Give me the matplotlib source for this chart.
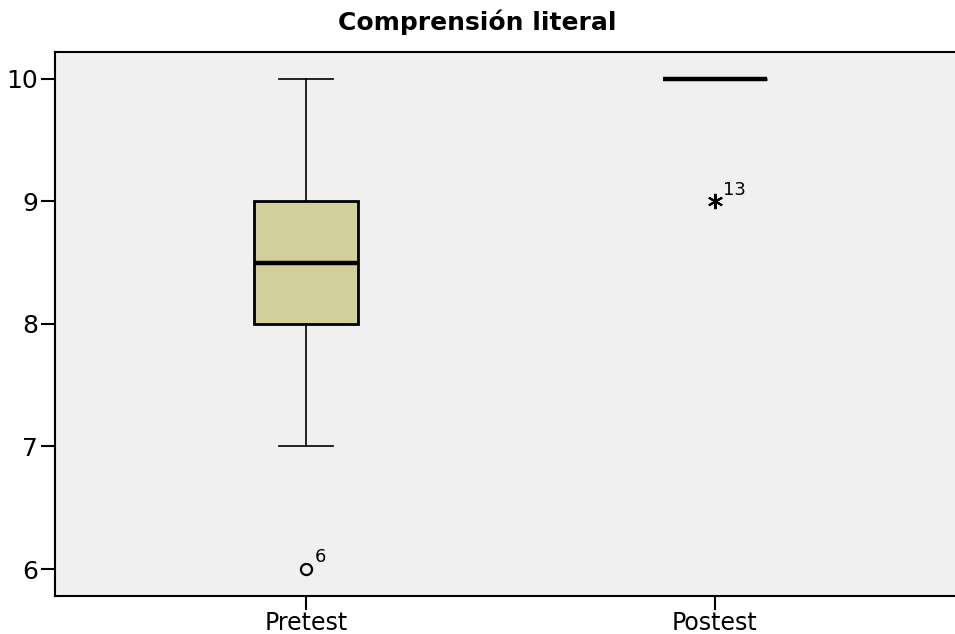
import matplotlib.pyplot as plt

# resumen de los puntajes de comprension literal
grupos = ['Pretest', 'Postest']
q1 = [8, 10]
mediana = [8.5, 10]
q3 = [9, 10]
bigote_inf = [7, 10]
bigote_sup = [10, 10]
atipicos = [[6], [9]]
etiquetas_atipicos = [['6'], ['13']]

plt.rcParams['font.family'] = 'DejaVu Sans'

fig = plt.figure(figsize=(9.55, 6.34), dpi=100)
ax = fig.add_axes([0.0576, 0.06, 0.9424, 0.858])
ax.set_facecolor('#f0f0f0')

stats = []
for i, g in enumerate(grupos):
    stats.append({'label': g, 'q1': q1[i], 'med': mediana[i], 'q3': q3[i],
                  'whislo': bigote_inf[i], 'whishi': bigote_sup[i], 'fliers': []})

ax.bxp(stats, positions=[1, 2], widths=0.255, patch_artist=True, showfliers=False,
       boxprops=dict(facecolor='#d3cf9a', edgecolor='black', linewidth=2),
       medianprops=dict(color='black', linewidth=3.2, solid_capstyle='butt'),
       whiskerprops=dict(color='black', linewidth=1.2),
       capprops=dict(color='black', linewidth=1.2), capwidths=0.13)

# atipicos: circulo para el pretest, asterisco (extremo) para el postest
ax.plot([1] * len(atipicos[0]), atipicos[0], marker='o', ms=8, mfc='none',
        mec='black', mew=1.6, ls='none')
ax.plot([2] * len(atipicos[1]), atipicos[1], marker=(6, 2, 0), ms=11,
        mec='black', mew=1.5, ls='none')
for i, (vals, labs) in enumerate(zip(atipicos, etiquetas_atipicos)):
    for v, lab in zip(vals, labs):
        ax.annotate(lab, (i + 1, v), xytext=(6, 5), textcoords='offset points',
                    fontsize=13)

ax.set_xlim(0.386, 2.587)
ax.set_ylim(5.78, 10.22)
ax.set_yticks([6, 7, 8, 9, 10])
ax.set_xticks([1, 2])
ax.set_xticklabels(grupos)
ax.tick_params(axis='both', length=10, width=1.5, labelsize=18, pad=2)
ax.tick_params(axis='x', labelsize=17, pad=0.5)
ax.spines['right'].set_visible(False)
for s in ['left', 'top', 'bottom']:
    ax.spines[s].set_linewidth(1.5)

fig.suptitle('Comprensión literal', fontsize=18, fontweight='bold', y=0.985)

fig.savefig('out.png', dpi=100)
